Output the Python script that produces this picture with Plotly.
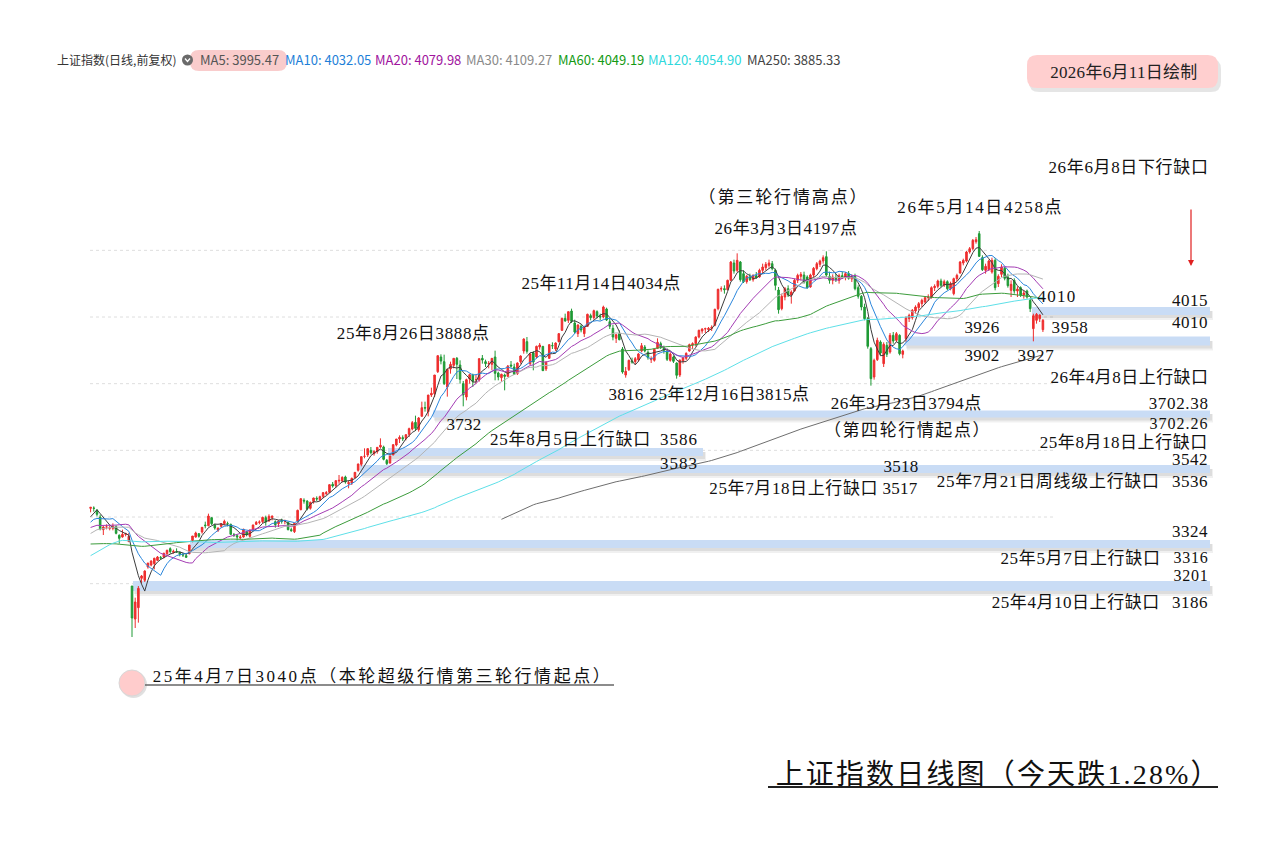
import plotly.graph_objects as go
import pandas as pd

W, H = 1273, 844

# ---- closes before the visible window (Sep 2024 - Mar 17 2025), used only for moving averages
pre_close = [2721,2717,2704,2717,2736,2736,2748,2863,2896,3000,3088,3336,
 3489,3258,3301,3217,3284,3202,3202,3169,3261,3268,3285,3302,3280,3300,3322,3286,3266,3279,
 3272,3310,3387,3383,3470,3452,3470,3421,3439,3379,3331,3324,3346,3368,3370,3267,3263,3259,3309,3295,3326,
 3364,3378,3368,3368,3404,3402,3422,3433,3461,3391,3386,3362,3382,3370,3368,3352,3394,3394,3399,3400,3407,3352,
 3262,3211,3206,3230,3230,3211,3169,3160,3241,3228,3236,3241,3244,3242,3213,3230,3252,3250,
 3229,3270,3303,3322,3318,3346,3332,3346,3355,3324,3351,3350,3379,3373,3346,3380,3388,3320,
 3316,3324,3342,3381,3373,3366,3380,3371,3358,3419,3426]

# ---- visible daily candles (2025-03-18 .. 2026-06-11)
opens = [3426,3427,3420,3400,3362,3370,3366,3366,3371,3345,
 3340,3348,3326,3193,3094,3128,3216,3210,3250,3256,
 3260,3270,3278,3280,3290,3305,3294,3296,3294,3287,
 3284,3290,3330,3340,3350,3355,3376,3374,3398,3376,
 3360,3372,3380,3380,3378,3346,3344,3338,3340,3356,
 3342,3362,3378,3384,3386,3398,3388,3398,3386,3380,
 3390,3388,3384,3362,3356,3388,3422,3450,3448,3426,
 3446,3456,3452,3462,3470,3474,3498,3494,3508,3508,
 3520,3500,3502,3518,3540,3558,3582,3586,3600,3590,
 3596,3610,3610,3570,3562,3586,3616,3634,3638,3636,
 3648,3664,3684,3662,3702,3728,3716,3766,3770,3836,
 3880,3866,3790,3844,3855,3876,3856,3800,3760,3814,
 3826,3812,3812,3876,3866,3860,3858,3880,3832,3818,
 3826,3822,3856,3850,3830,3866,3898,3926,3860,3892,
 3880,3910,3912,3844,3876,3914,3904,3926,3960,3996,
 3990,4018,3982,3950,3972,3950,3972,4004,3998,4016,
 4002,4000,4024,3986,3966,3936,3950,3904,3826,3842,
 3868,3866,3872,3898,3910,3894,3872,3870,3906,3920,
 3906,3898,3870,3880,3862,3826,3868,3876,3898,3916,
 3920,3940,3958,3964,3962,3966,3975,4025,4084,4085,
 4082,4110,4162,4140,4165,4130,4106,4120,4112,4124,
 4120,4140,4148,4155,4160,4140,4081,4025,4060,4085,
 4066,4078,4110,4122,4126,4120,4090,4126,4145,4158,
 4168,4181,4122,4110,4118,4110,4124,4118,4130,4114,
 4122,4088,4062,4030,3995,3905,3820,3872,3925,3860,
 3915,3895,3945,3930,3945,3888,3935,3995,3998,4018,
 4028,4040,4045,4058,4060,4088,4092,4108,4095,4106,
 4085,4070,4115,4132,4162,4168,4195,4205,4226,4250,
 4178,4140,4142,4135,4170,4100,4128,4146,4120,4080,
 4110,4078,4088,4066,4078,4050,3965,3990,3995,3962]
highs = [3430,3432,3424,3407,3373,3378,3375,3381,3375,3348,
 3362,3353,3352,3193,3158,3193,3226,3240,3262,3270,
 3278,3283,3283,3293,3302,3309,3302,3306,3296,3292,
 3290,3316,3343,3356,3352,3370,3386,3410,3398,3380,
 3368,3381,3392,3386,3380,3352,3348,3346,3365,3358,
 3362,3377,3388,3390,3401,3404,3408,3404,3390,3390,
 3395,3392,3386,3368,3382,3422,3456,3456,3450,3446,
 3458,3462,3464,3475,3478,3498,3505,3510,3526,3522,
 3524,3508,3518,3535,3560,3582,3606,3606,3610,3600,
 3610,3636,3614,3574,3584,3618,3634,3645,3645,3648,
 3668,3688,3704,3700,3746,3746,3766,3788,3826,3884,
 3888,3887,3845,3866,3876,3880,3870,3808,3815,3830,
 3830,3826,3876,3886,3872,3868,3877,3899,3836,3830,
 3830,3856,3868,3860,3864,3885,3936,3940,3892,3898,
 3914,3922,3912,3868,3918,3924,3924,3952,3998,4010,
 4016,4025,3992,3978,3978,3972,4010,4010,4022,4020,
 4010,4034,4028,3996,3976,3950,3960,3910,3850,3872,
 3878,3880,3892,3922,3916,3900,3882,3906,3936,3926,
 3914,3906,3894,3884,3864,3872,3880,3894,3920,3924,
 3942,3962,3966,3968,3970,3975,4025,4085,4092,4095,
 4112,4168,4172,4191,4168,4140,4126,4130,4128,4135,
 4145,4160,4165,4172,4168,4145,4090,4070,4090,4095,
 4080,4115,4130,4135,4136,4125,4130,4150,4165,4172,
 4185,4197,4136,4128,4130,4130,4136,4135,4138,4128,
 4130,4095,4066,4040,4000,3910,3875,3938,3930,3924,
 3925,3952,3955,3955,3948,3902,4002,4010,4024,4035,
 4045,4055,4062,4068,4092,4098,4112,4115,4112,4110,
 4106,4118,4130,4168,4175,4198,4210,4234,4240,4258,
 4185,4160,4172,4178,4176,4128,4158,4150,4130,4110,
 4116,4092,4092,4080,4082,4056,4010,4012,4008,3994]
lows = [3414,3416,3402,3360,3346,3363,3360,3360,3348,3320,
 3338,3342,3326,3040,3067,3083,3201,3205,3245,3252,
 3243,3268,3272,3276,3286,3290,3290,3292,3282,3280,
 3278,3288,3324,3338,3338,3350,3366,3372,3376,3362,
 3355,3368,3376,3372,3346,3340,3330,3334,3338,3342,
 3338,3360,3376,3378,3382,3374,3386,3390,3368,3370,
 3380,3378,3360,3356,3352,3386,3420,3440,3420,3422,
 3440,3448,3448,3456,3466,3472,3488,3488,3500,3504,
 3500,3486,3496,3517,3536,3552,3576,3580,3588,3584,
 3590,3606,3570,3556,3560,3586,3612,3622,3628,3630,
 3640,3660,3658,3656,3702,3716,3702,3760,3760,3832,
 3858,3796,3761,3830,3846,3814,3800,3732,3750,3800,
 3790,3800,3806,3860,3850,3846,3840,3810,3810,3806,
 3780,3820,3848,3826,3826,3860,3890,3890,3856,3840,
 3876,3902,3838,3838,3874,3904,3898,3924,3958,3986,
 3982,3982,3950,3940,3954,3940,3970,3990,3992,3996,
 3990,3996,3988,3964,3930,3922,3930,3830,3818,3838,
 3860,3858,3866,3894,3894,3872,3862,3866,3904,3904,
 3890,3868,3866,3862,3815,3820,3860,3870,3896,3904,
 3912,3936,3950,3952,3955,3958,3972,4020,4076,4070,
 4080,4108,4130,4135,4106,4102,4100,4108,4106,4115,
 4118,4132,4140,4148,4140,4080,4010,4020,4050,4060,
 4040,4076,4102,4110,4100,4085,4088,4120,4140,4150,
 4160,4120,4100,4098,4105,4100,4115,4110,4112,4105,
 4080,4055,4020,3990,3905,3794,3812,3868,3885,3850,
 3880,3890,3920,3925,3885,3876,3926,3985,3992,4010,
 4020,4030,4040,4048,4055,4078,4086,4090,4090,4080,
 4080,4065,4108,4130,4155,4164,4190,4200,4220,4180,
 4138,4130,4138,4130,4080,4090,4120,4110,4088,4060,
 4070,4060,4060,4055,4055,4015,3927,3980,3985,3955]
closes = [3429,3426,3408,3364,3370,3370,3368,3373,3351,3336,
 3348,3350,3342,3097,3145,3186,3223,3238,3262,3268,
 3276,3280,3277,3291,3300,3296,3297,3295,3288,3286,
 3279,3316,3343,3352,3342,3369,3374,3403,3380,3367,
 3367,3380,3387,3380,3348,3346,3340,3340,3363,3347,
 3361,3376,3384,3385,3399,3385,3402,3403,3377,3388,
 3387,3388,3362,3359,3381,3420,3455,3448,3424,3444,
 3457,3454,3461,3473,3473,3497,3493,3509,3510,3519,
 3505,3503,3516,3534,3559,3581,3582,3605,3593,3597,
 3609,3615,3573,3560,3583,3617,3634,3639,3635,3647,
 3665,3683,3666,3697,3728,3727,3766,3771,3826,3884,
 3868,3800,3843,3858,3876,3858,3813,3766,3812,3827,
 3807,3812,3875,3871,3860,3861,3876,3831,3820,3828,
 3822,3853,3853,3828,3862,3883,3934,3897,3889,3865,
 3912,3916,3839,3864,3917,3914,3922,3950,3996,3988,
 4016,3987,3955,3976,3961,3969,4008,3998,4019,4003,
 4000,4030,3991,3972,3940,3947,3932,3835,3837,3870,
 3865,3875,3889,3914,3898,3878,3875,3903,3924,3910,
 3900,3873,3889,3867,3825,3871,3877,3891,3917,3920,
 3940,3960,3964,3965,3966,3969,4023,4083,4085,4082,
 4110,4165,4138,4170,4112,4106,4122,4112,4125,4118,
 4140,4150,4158,4162,4145,4095,4022,4062,4085,4066,
 4075,4110,4125,4128,4104,4088,4126,4146,4160,4168,
 4178,4126,4110,4120,4112,4124,4118,4130,4116,4120,
 4085,4062,4030,3995,3912,3815,3870,3930,3892,3918,
 3888,3945,3928,3950,3890,3898,3998,4005,4020,4030,
 4040,4050,4058,4060,4088,4092,4108,4095,4106,4085,
 4100,4115,4125,4165,4170,4195,4205,4230,4232,4182,
 4142,4152,4168,4170,4088,4122,4150,4116,4094,4098,
 4078,4084,4066,4072,4060,4025,4004,4008,4006,3990]

ma_periods = [5, 10, 20, 30, 60, 120, 250]
ma_colors = ['#3c3c3c', '#2a86dc', '#a43cb4', '#b4b4b4', '#3c9c3c', '#5ee0e8', '#6e6e6e']
legend_labels = ["MA5: 3995.47", "MA10: 4032.05", "MA20: 4079.98", "MA30: 4109.27",
                 "MA60: 4049.19", "MA120: 4054.90", "MA250: 3885.33"]
legend_colors = ['#555555', '#1e7fd8', '#a0149e', '#8a8a8a', '#139a13', '#2fd8dc', '#444444']
grid_levels = [3200, 3400, 3600, 3800, 4000, 4200]

assert len(pre_close) == 120
n = len(closes)
assert len(opens) == n and len(highs) == n and len(lows) == n

idx = list(range(n))
allc = pd.Series(pre_close + closes, dtype=float)

# pixel layout helpers (plot area = whole page)
PX0, STEP = 90.6, 3.185
XR = [-PX0 / STEP, (W - PX0) / STEP]
YR = [3040 - (H - 637) * 3.0, 3040 + 637 * 3.0]


def X(px):
    return px / W


def Y(py):
    return 1 - py / H


fig = go.Figure()

for p, col in zip(ma_periods, ma_colors):
    ma = allc.rolling(p, min_periods=p).mean().iloc[len(pre_close):].tolist()
    fig.add_trace(go.Scatter(x=idx, y=ma, mode='lines', line=dict(color=col, width=1),
                             hoverinfo='skip', showlegend=False))

fig.add_trace(go.Candlestick(
    x=idx, open=opens, high=highs, low=lows, close=closes,
    increasing=dict(line=dict(color='#ee2e2e', width=1), fillcolor='#ee2e2e'),
    decreasing=dict(line=dict(color='#1f9a35', width=1), fillcolor='#1f9a35'),
    showlegend=False, whiskerwidth=0))

shapes = []
for g in grid_levels:
    shapes.append(dict(type='line', xref='paper', yref='y', x0=X(90), x1=X(1056), y0=g, y1=g,
                       line=dict(color='#dedede', width=1, dash='dot'), layer='below'))


def band(x0, x1, yc, h=8):
    shapes.append(dict(type='rect', xref='paper', yref='paper', x0=X(x0 + 2), x1=X(x1 + 3),
                       y0=Y(yc + h / 2 + 5), y1=Y(yc), fillcolor='rgba(0,0,0,0.06)',
                       line=dict(width=0), layer='below'))
    shapes.append(dict(type='rect', xref='paper', yref='paper', x0=X(x0 + 1), x1=X(x1 + 2),
                       y0=Y(yc + h / 2 + 3), y1=Y(yc), fillcolor='rgba(0,0,0,0.08)',
                       line=dict(width=0), layer='below'))
    shapes.append(dict(type='rect', xref='paper', yref='paper', x0=X(x0), x1=X(x1),
                       y0=Y(yc + h / 2), y1=Y(yc - h / 2), fillcolor='#c9dcf5',
                       line=dict(width=0), layer='below'))


band(1032, 1210, 311, 8)
band(905, 1210, 341, 9)
band(433, 1210, 414, 7)
band(388, 703, 452, 8)
band(360, 1210, 469, 8)
band(190, 1210, 544, 8)
band(133, 1210, 586, 10)


def rrect(x0, y0, x1, y1, r):
    return (f"M {X(x0+r)},{Y(y0)} L {X(x1-r)},{Y(y0)} Q {X(x1)},{Y(y0)} {X(x1)},{Y(y0+r)} "
            f"L {X(x1)},{Y(y1-r)} Q {X(x1)},{Y(y1)} {X(x1-r)},{Y(y1)} "
            f"L {X(x0+r)},{Y(y1)} Q {X(x0)},{Y(y1)} {X(x0)},{Y(y1-r)} "
            f"L {X(x0)},{Y(y0+r)} Q {X(x0)},{Y(y0)} {X(x0+r)},{Y(y0)} Z")


shapes.append(dict(type='path', xref='paper', yref='paper', path=rrect(190, 50, 287, 71, 9),
                   fillcolor='#f9cccc', line=dict(width=0)))
shapes.append(dict(type='circle', xref='paper', yref='paper', x0=X(182), x1=X(193), y0=Y(65.5), y1=Y(54.5),
                   fillcolor='#6a6a6a', line=dict(width=0)))
shapes.append(dict(type='path', xref='paper', yref='paper',
                   path=f"M {X(185)},{Y(58.5)} L {X(187.5)},{Y(61.5)} L {X(190)},{Y(58.5)}",
                   line=dict(color='white', width=1.3)))
shapes.append(dict(type='path', xref='paper', yref='paper', path=rrect(1029, 59, 1221, 92, 10),
                   fillcolor='rgba(0,0,0,0.10)', line=dict(width=0)))
shapes.append(dict(type='path', xref='paper', yref='paper', path=rrect(1027, 55, 1218, 88, 10),
                   fillcolor='#ffcfcf', line=dict(width=0)))
shapes.append(dict(type='circle', xref='paper', yref='paper', x0=X(120), x1=X(147), y0=Y(698), y1=Y(671),
                   fillcolor='rgba(0,0,0,0.12)', line=dict(width=0)))
shapes.append(dict(type='circle', xref='paper', yref='paper', x0=X(119), x1=X(145), y0=Y(696), y1=Y(670),
                   fillcolor='#ffcccc', line=dict(color='#d8d8d8', width=1)))
shapes.append(dict(type='line', xref='paper', yref='paper', x0=X(145), x1=X(614), y0=Y(685), y1=Y(685),
                   line=dict(color='#666666', width=1.5)))
shapes.append(dict(type='line', xref='paper', yref='paper', x0=X(768), x1=X(1218), y0=Y(787), y1=Y(787),
                   line=dict(color='#222222', width=2)))

annotations = []
spacing = {}
SANS = "Noto Sans CJK SC"
SER = "Liberation Serif, Noto Sans CJK SC"


def est_width(s, size):
    w = 0.0
    last = len(s) - 1
    for i, ch in enumerate(s):
        if ch.isdigit():
            w += 0.5
        elif ch == '.':
            w += 0.25
        elif ch == '%':
            w += 0.833
        elif ch == '（':
            w += 0.5 if i == 0 else 1.0
        elif ch == '）':
            w += 0.5 if i == last else 1.0
        elif ord(ch) > 0x2E80:
            w += 1.0
        else:
            w += 0.5
    return w * size


def txt(s, px, py, anchor='left', size=13, color='#111111', family=SANS):
    annotations.append(dict(text=s, x=X(px), y=Y(py), xref='paper', yref='paper', showarrow=False,
                            xanchor=anchor, yanchor='middle',
                            font=dict(family=family, size=size, color=color)))


def label(s, x_left, x_right, py, size=17, color='#111111'):
    """centred label spanning x_left..x_right; letter spacing widens it to the span"""
    k = len(annotations)
    cx = (x_left + x_right) / 2
    annotations.append(dict(text=s, x=X(cx), y=Y(py), xref='paper', yref='paper', showarrow=False,
                            xanchor='center', yanchor='middle', align='center',
                            font=dict(family=SER, size=size, color=color)))
    ls = ((x_right - x_left) - est_width(s, size)) / len(s)
    spacing[k] = max(-0.5, min(3.0, ls))


txt("上证指数(日线,前复权)", 55, 60, size=12, color='#333333')
leg_x = [198, 283, 373, 464, 556, 646, 745]
for lx, lab, lc in zip(leg_x, legend_labels, legend_colors):
    txt(lab, lx, 60, size=13, color=lc)

label("2026年6月11日绘制", 1050, 1198, 72, 17, '#222222')
label("26年6月8日下行缺口", 1048, 1208, 167)
label("（第三轮行情高点）", 707, 860, 197)
label("26年3月3日4197点", 714, 857, 228)
label("26年5月14日4258点", 897, 1063, 207)
label("25年11月14日4034点", 521, 681, 283)
label("25年8月26日3888点", 337, 490, 333)
label("4010", 1037, 1076, 296)
label("4015", 1172, 1208, 300)
label("4010", 1172, 1208, 322)
label("3926", 964, 999, 327)
label("3958", 1051, 1088, 327)
label("3902", 964, 999, 355)
label("3927", 1018, 1055, 355)
label("26年4月8日上行缺口", 1050, 1208, 377)
label("3816", 608, 643, 394)
label("25年12月16日3815点", 650, 810, 394)
label("26年3月23日3794点", 831, 982, 403)
label("3702.38", 1148, 1208, 404)
label("3732", 446, 481, 424)
label("3702.26", 1149, 1208, 423, 16)
label("（第四轮行情起点）", 832, 982, 430)
label("25年8月5日上行缺口", 490, 651, 439)
label("3586", 660, 698, 439)
label("25年8月18日上行缺口", 1040, 1208, 443)
label("3542", 1172, 1208, 459)
label("3583", 660, 698, 463)
label("3518", 883, 918, 466)
label("25年7月21日周线级上行缺口", 937, 1160, 481)
label("3536", 1172, 1208, 482)
label("25年7月18日上行缺口", 709, 878, 488)
label("3517", 883, 918, 488)
label("3324", 1172, 1208, 531)
label("25年5月7日上行缺口", 1000, 1160, 558)
label("3316", 1173, 1208, 557, 16)
label("3201", 1173, 1208, 575, 16)
label("25年4月10日上行缺口", 992, 1160, 602)
label("3186", 1172, 1208, 602)
label("25年4月7日3040点（本轮超级行情第三轮行情起点）", 157, 608, 676)
label("上证指数日线图（今天跌1.28%）", 782, 1213, 774, 28)

annotations.append(dict(x=X(1191), y=Y(266), xref='paper', yref='paper', ax=0, ay=-58,
                        showarrow=True, arrowhead=2, arrowsize=1, arrowwidth=1.2,
                        arrowcolor='#e02020', text=''))

fig.update_layout(
    width=W, height=H, margin=dict(l=0, r=0, t=0, b=0),
    paper_bgcolor='white', plot_bgcolor='rgba(0,0,0,0)',
    xaxis=dict(range=XR, visible=False, rangeslider=dict(visible=False), fixedrange=True),
    yaxis=dict(range=YR, visible=False, fixedrange=True),
    shapes=shapes, annotations=annotations, showlegend=False,
)

css = ""
for k, ls in spacing.items():
    css += '.annotation[data-index="%d"] text{letter-spacing:%.2fpx;}' % (k, ls)

post = ("document.body.style.margin='0';document.body.style.overflow='hidden';"
        "var st=document.createElement('style');st.innerHTML='" + css + "';"
        "document.head.appendChild(st);")

fig.write_html("out.html", config={'displayModeBar': False}, post_script=post)
